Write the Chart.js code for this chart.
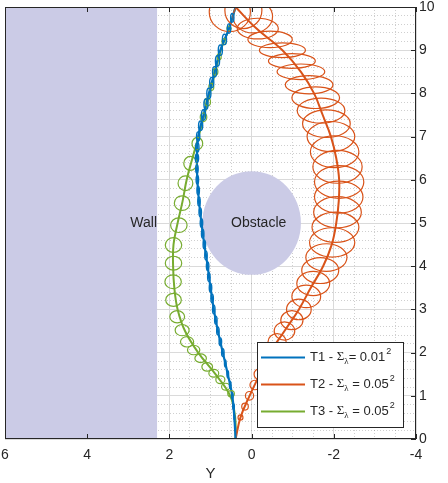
<!DOCTYPE html>
<html><head><meta charset="utf-8">
<script src="https://cdn.jsdelivr.net/npm/chart.js@4/dist/chart.umd.min.js"></script>
<style>html,body{margin:0;padding:0;overflow:hidden;background:#fff}canvas{display:block}</style>
</head><body>
<canvas id="c" width="465" height="483"></canvas>
<script>
// ---- data (vertical position X, lateral position Y) ----
const xPos  = [0,0.5,1,1.5,2,2.5,3,3.5,4,4.5,5,5.5,6,6.5,7,7.5,8,8.5,9,9.5,10];
const t1Lat = [0.39,0.42,0.47,0.58,0.70,0.82,0.92,1.00,1.07,1.15,1.22,1.28,1.32,1.33,1.30,1.17,1.04,0.90,0.76,0.55,0.39];
const t2Lat = [0.39,0.27,0.05,-0.20,-0.45,-0.80,-1.15,-1.44,-1.74,-1.95,-2.06,-2.12,-2.13,-2.06,-1.93,-1.73,-1.52,-1.20,-0.75,-0.12,0.39];
const t3Lat = [0.39,0.40,0.52,0.88,1.30,1.62,1.80,1.88,1.91,1.90,1.80,1.68,1.58,1.44,1.29,1.15,1.02,0.88,0.75,0.55,0.39];

// covariance ellipses: centre (lateral, vertical) and semi-axes
const t1EllY  = [0.25,0.5,0.75,1,1.25,1.5,1.75,2,2.25,2.5,2.75,3,3.25,3.5,3.75,4,4.25,4.5,4.75,5,5.25,5.5,5.75,6,6.25,6.5,6.75,7,7.25,7.5,7.75,8,8.25,8.5,8.75,9,9.25,9.5,9.75];
const t1EllX  = [0.40,0.42,0.44,0.47,0.52,0.58,0.64,0.70,0.76,0.82,0.87,0.92,0.96,1.00,1.04,1.07,1.11,1.15,1.19,1.22,1.25,1.28,1.30,1.32,1.33,1.33,1.32,1.30,1.24,1.17,1.11,1.04,0.97,0.90,0.83,0.76,0.66,0.55,0.47];
const t1EllRx = [0.01,0.01,0.02,0.02,0.02,0.02,0.02,0.03,0.03,0.03,0.03,0.03,0.03,0.03,0.03,0.03,0.03,0.03,0.03,0.03,0.03,0.03,0.03,0.03,0.03,0.04,0.04,0.04,0.05,0.05,0.05,0.05,0.05,0.05,0.05,0.05,0.05,0.04,0.04];
const t1EllRy = [0.06,0.06,0.07,0.07,0.08,0.08,0.08,0.09,0.09,0.09,0.09,0.10,0.10,0.10,0.10,0.10,0.10,0.10,0.10,0.10,0.10,0.10,0.10,0.10,0.10,0.10,0.11,0.11,0.11,0.12,0.12,0.12,0.12,0.12,0.12,0.12,0.12,0.11,0.10];

const t2EllY  = [0.5,0.75,1.0,1.25,1.5,1.75,2.0,2.25,2.5,2.75,3.0,3.3,3.6,3.9,4.2,4.55,4.9,5.25,5.6,5.95,6.3,6.65,7.0,7.3,7.6,7.9,8.2,8.5,8.75,9.0,9.25,9.5,9.78,9.92,9.88];
const t2EllX  = [0.27,0.16,0.05,-0.08,-0.20,-0.32,-0.45,-0.62,-0.80,-0.98,-1.15,-1.33,-1.50,-1.67,-1.82,-1.96,-2.04,-2.09,-2.12,-2.13,-2.09,-2.02,-1.93,-1.82,-1.69,-1.56,-1.40,-1.20,-0.98,-0.75,-0.45,-0.15,-0.03,0.20,0.53];
const t2EllRx = [0.06,0.08,0.10,0.12,0.14,0.17,0.19,0.22,0.25,0.27,0.30,0.35,0.40,0.45,0.50,0.55,0.57,0.58,0.59,0.60,0.60,0.59,0.58,0.58,0.58,0.58,0.58,0.58,0.57,0.56,0.54,0.50,0.48,0.45,0.50];
const t2EllRy = [0.06,0.08,0.10,0.11,0.13,0.15,0.17,0.19,0.21,0.22,0.24,0.26,0.28,0.30,0.32,0.34,0.35,0.36,0.37,0.38,0.38,0.37,0.35,0.32,0.29,0.25,0.21,0.18,0.17,0.17,0.19,0.24,0.38,0.42,0.45];

const t3EllY  = [1.05,1.21,1.37,1.52,1.67,1.87,2.06,2.25,2.52,2.83,3.22,3.64,4.07,4.49,4.95,5.46,5.92,6.38,6.84,7.45,7.80,8.15,8.50,8.85,9.20,9.50];
const t3EllX  = [0.50,0.63,0.76,0.92,1.08,1.24,1.41,1.57,1.69,1.81,1.90,1.91,1.90,1.90,1.77,1.69,1.61,1.49,1.32,1.17,1.07,0.98,0.88,0.79,0.67,0.55];
const t3EllRx = [0.08,0.10,0.11,0.12,0.13,0.14,0.15,0.16,0.17,0.18,0.19,0.20,0.20,0.20,0.20,0.19,0.18,0.16,0.13,0.08,0.07,0.06,0.06,0.05,0.05,0.05];
const t3EllRy = [0.07,0.08,0.09,0.09,0.10,0.10,0.11,0.12,0.13,0.14,0.15,0.16,0.16,0.17,0.17,0.17,0.17,0.16,0.14,0.10,0.09,0.08,0.08,0.07,0.07,0.06];

const seriesNames = ['T1','T2','T3'];
const sigmaValues = ['0.01','0.05','0.05'];
const xTicks = [6,4,2,0,-2,-4];
const yTicks = [0,1,2,3,4,5,6,7,8,9,10];
const xAxisTitle = 'Y';
const yAxisTitle = 'X';

// scene objects (data units)
const wall = {x0: 6, x1: 2.3, y0: 0, y1: 10, label: 'Wall'};
const obstacle = {x: 0, y: 5, r: 1.2, label: 'Obstacle', labelX: 0.5};

// ---- styles ----
const BLUE = '#0072BD', ORANGE = '#D95319', GREEN = '#77AC30';
const PATCH = '#CBCBE6';
const AXIS = '#262626';
const FONT = '"Liberation Sans", Arial, Helvetica, sans-serif';
const SERIF = '"Liberation Serif", "DejaVu Serif", serif';

Chart.defaults.font.family = FONT;
Chart.defaults.font.size = 14;
Chart.defaults.color = AXIS;

const mk = lat => xPos.map((v, i) => ({x: lat[i], y: v}));

const ellSets = [
  {x: t3EllX, y: t3EllY, rx: t3EllRx, ry: t3EllRy, color: GREEN, w: 1.2},
  {x: t2EllX, y: t2EllY, rx: t2EllRx, ry: t2EllRy, color: ORANGE, w: 1.2},
  {x: t1EllX, y: t1EllY, rx: t1EllRx, ry: t1EllRy, color: BLUE, w: 1.4},
];

const scene = {
  id: 'scene',
  beforeDatasetsDraw(chart) {
    const {ctx, chartArea: a} = chart;
    const sx = chart.scales.x, sy = chart.scales.y;
    ctx.save();
    ctx.beginPath(); ctx.rect(a.left, a.top, a.width, a.height); ctx.clip();
    ctx.fillStyle = PATCH;
    const xa = sx.getPixelForValue(wall.x0), xb = sx.getPixelForValue(wall.x1);
    const ya = sy.getPixelForValue(wall.y1), yb = sy.getPixelForValue(wall.y0);
    ctx.fillRect(Math.min(xa, xb), ya, Math.abs(xb - xa), yb - ya);
    const cx = sx.getPixelForValue(obstacle.x), cy = sy.getPixelForValue(obstacle.y);
    const rx = Math.abs(sx.getPixelForValue(obstacle.x + obstacle.r) - cx);
    const ry = Math.abs(sy.getPixelForValue(obstacle.y + obstacle.r) - cy);
    ctx.beginPath(); ctx.ellipse(cx, cy, rx, ry, 0, 0, Math.PI * 2); ctx.fill();
    ctx.fillStyle = AXIS;
    ctx.font = '14px ' + FONT;
    ctx.textBaseline = 'middle';
    ctx.textAlign = 'right';
    ctx.fillText(wall.label, xb, sy.getPixelForValue(obstacle.y));
    ctx.textAlign = 'left';
    ctx.fillText(obstacle.label, sx.getPixelForValue(obstacle.labelX), cy);
    ctx.restore();
  },
  afterDatasetsDraw(chart) {
    const {ctx, chartArea: a} = chart;
    const sx = chart.scales.x, sy = chart.scales.y;
    ctx.save();
    ctx.beginPath(); ctx.rect(a.left, a.top, a.width, a.height); ctx.clip();
    for (const s of ellSets) {
      ctx.strokeStyle = s.color; ctx.lineWidth = s.w;
      for (let i = 0; i < s.x.length; i++) {
        const cx = sx.getPixelForValue(s.x[i]), cy = sy.getPixelForValue(s.y[i]);
        const rx = Math.abs(sx.getPixelForValue(s.x[i] + s.rx[i]) - cx);
        const ry = Math.abs(sy.getPixelForValue(s.y[i] + s.ry[i]) - cy);
        ctx.beginPath(); ctx.ellipse(cx, cy, rx, ry, 0, 0, Math.PI * 2); ctx.stroke();
      }
    }
    ctx.restore();
    // axes box and inward ticks
    ctx.save();
    ctx.strokeStyle = AXIS; ctx.lineWidth = 1;
    ctx.strokeRect(a.left + 0.5, a.top + 0.5, a.width - 1, a.height - 1);
    ctx.beginPath();
    for (const v of xTicks) {
      const p = Math.round(sx.getPixelForValue(v)) + 0.5;
      ctx.moveTo(p, a.bottom); ctx.lineTo(p, a.bottom - 5);
      ctx.moveTo(p, a.top); ctx.lineTo(p, a.top + 5);
    }
    for (const v of yTicks) {
      const p = Math.round(sy.getPixelForValue(v)) + 0.5;
      ctx.moveTo(a.right, p); ctx.lineTo(a.right - 5, p);
    }
    ctx.stroke();
    ctx.restore();
  },
  afterDraw(chart) {
    const {ctx, chartArea: a} = chart;
    const W = 147, H = 86;
    const L = a.right - 12 - W, T = a.bottom - 11 - H;
    const colors = [BLUE, ORANGE, GREEN];
    ctx.save();
    ctx.fillStyle = '#fff';
    ctx.fillRect(L, T, W, H);
    ctx.strokeStyle = AXIS; ctx.lineWidth = 1;
    ctx.strokeRect(L + 0.5, T + 0.5, W - 1, H - 1);
    ctx.textBaseline = 'middle'; ctx.textAlign = 'left';
    for (let i = 0; i < 3; i++) {
      const y = T + 15 + i * 27;
      ctx.strokeStyle = colors[i]; ctx.lineWidth = 2;
      ctx.beginPath(); ctx.moveTo(L + 4, y + 0.5); ctx.lineTo(L + 48, y + 0.5); ctx.stroke();
      ctx.fillStyle = AXIS;
      let x = L + 53;
      ctx.font = '13px ' + FONT;
      const t1 = seriesNames[i] + ' - ';
      ctx.fillText(t1, x, y); x += ctx.measureText(t1).width;
      ctx.font = '13px ' + SERIF;
      ctx.fillText('\u03A3', x, y); x += ctx.measureText('\u03A3').width;
      ctx.font = '9px ' + SERIF;
      ctx.fillText('\u03BB', x, y + 5); x += ctx.measureText('\u03BB').width;
      ctx.font = '13px ' + FONT;
      const t2 = (i === 0 ? '= ' : ' = ') + sigmaValues[i];
      ctx.fillText(t2, x, y); x += ctx.measureText(t2).width;
      ctx.font = '9px ' + FONT;
      ctx.fillText('2', x + 1, y - 5);
    }
    ctx.restore();
  }
};

const majorGrid = '#DADADA';
const minorGrid = 'rgba(38,38,38,0.22)';

new Chart(document.getElementById('c'), {
  type: 'scatter',
  data: {
    datasets: [
      {label: seriesNames[0], data: mk(t1Lat), borderColor: BLUE, borderWidth: 2.2},
      {label: seriesNames[1], data: mk(t2Lat), borderColor: ORANGE, borderWidth: 2},
      {label: seriesNames[2], data: mk(t3Lat), borderColor: GREEN, borderWidth: 2},
    ].map(d => Object.assign(d, {showLine: true, pointRadius: 0, tension: 0.4, fill: false}))
  },
  options: {
    responsive: false,
    animation: false,
    events: [],
    layout: {padding: {left: 5, top: 7, right: 0, bottom: 0}},
    plugins: {legend: {display: false}, tooltip: {enabled: false}},
    scales: {
      x: {
        type: 'linear', position: 'bottom', min: -4, max: 6, reverse: true,
        afterBuildTicks: s => { s.ticks = xTicks.map(v => ({value: v})); },
        afterFit: s => { s.height = 44; s.paddingLeft = 0; s.paddingRight = 0; },
        ticks: {padding: 8, maxRotation: 0, font: {size: 14}},
        grid: {color: majorGrid, drawTicks: false},
        border: {display: false},
        title: {display: true, text: xAxisTitle, font: {size: 15}, padding: {top: 0, bottom: 0}}
      },
      xMinor: {
        type: 'linear', axis: 'x', position: 'bottom', min: -4, max: 6, reverse: true,
        afterFit: s => { s.height = 0; s.paddingLeft = 0; s.paddingRight = 0; },
        ticks: {display: false, stepSize: 0.5, maxTicksLimit: 100},
        grid: {color: c => (Math.abs(c.tick.value % 2) < 1e-6 ? 'rgba(0,0,0,0)' : minorGrid), drawTicks: false},
        border: {display: false, dash: [1, 2]}
      },
      y: {
        type: 'linear', position: 'right', min: 0, max: 10,
        afterBuildTicks: s => { s.ticks = yTicks.map(v => ({value: v})); },
        afterFit: s => { s.width = 49; s.paddingTop = 0; s.paddingBottom = 0; },
        ticks: {padding: 3, font: {size: 14}},
        grid: {color: majorGrid, drawTicks: false},
        border: {display: false},
        title: {display: true, text: yAxisTitle, font: {size: 15}}
      },
      yMinor: {
        type: 'linear', axis: 'y', position: 'right', min: 0, max: 10,
        afterFit: s => { s.width = 0; s.paddingTop = 0; s.paddingBottom = 0; },
        ticks: {display: false, stepSize: 0.2, maxTicksLimit: 100},
        grid: {color: c => (Math.abs(c.tick.value - Math.round(c.tick.value)) < 1e-6 ? 'rgba(0,0,0,0)' : minorGrid), drawTicks: false},
        border: {display: false, dash: [1, 2]}
      }
    }
  },
  plugins: [scene]
});
</script>
</body></html>
